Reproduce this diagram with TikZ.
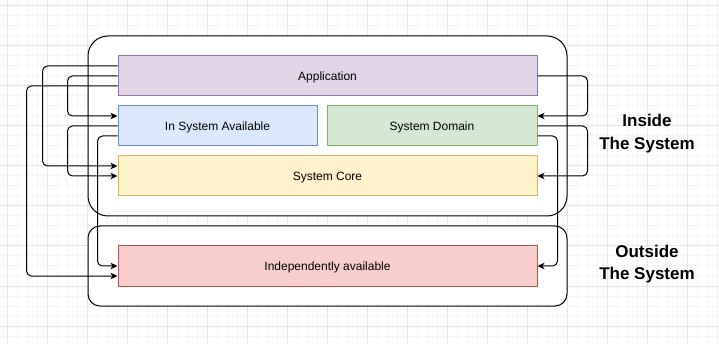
\documentclass[tikz,border=0pt]{standalone}
\usepackage{fontspec}
\setmainfont{Liberation Sans}
\usetikzlibrary{arrows.meta}
\definecolor{GridMinor}{HTML}{F5F5F5}
\definecolor{GridMajor}{HTML}{E6E6E6}
\definecolor{AppFill}{HTML}{E1D5E7}
\definecolor{AppLine}{HTML}{9673A6}
\definecolor{AvailFill}{HTML}{DAE8FC}
\definecolor{AvailLine}{HTML}{6C8EBF}
\definecolor{DomFill}{HTML}{D5E8D4}
\definecolor{DomLine}{HTML}{82B366}
\definecolor{CoreFill}{HTML}{FFF2CC}
\definecolor{CoreLine}{HTML}{D6B656}
\definecolor{IndFill}{HTML}{F8CECC}
\definecolor{IndLine}{HTML}{B85450}
\tikzset{
  layer/.style={draw,line width=1pt,minimum height=40pt,inner sep=0pt,
    text height=8.6pt,text depth=0pt,font=\fontsize{12}{14}\selectfont},
  zone/.style={draw=black,fill=white,line width=1pt,inner sep=0pt},
  link/.style={draw=black,line width=1pt,rounded corners=5pt,
    -{Stealth[length=7pt,width=6.5pt,inset=2pt]}},
  zonetitle/.style={font=\fontsize{17}{22.7}\selectfont\bfseries,align=center}}

\begin{document}
\begin{tikzpicture}[x=1pt,y=-1pt]
  \useasboundingbox (0,0) rectangle (719,344);
  \fill[white] (0,0) rectangle (719,344);
  % background grid
  \foreach \gx in {7,17,...,717} \draw[GridMinor,line width=1pt] (\gx,0) -- (\gx,344);
  \foreach \gy in {6,16,...,336} \draw[GridMinor,line width=1pt] (0,\gy) -- (719,\gy);
  \foreach \gx in {7,47,...,687} \draw[GridMajor,line width=1pt] (\gx,0) -- (\gx,344);
  \foreach \gy in {6,46,...,326} \draw[GridMajor,line width=1pt] (0,\gy) -- (719,\gy);
  % containers
  \node[zone,rounded corners=20pt,minimum width=479pt,minimum height=180pt] (inside) at (327.5,126) {};
  \node[zone,rounded corners=12pt,minimum width=479pt,minimum height=80pt] (outside) at (327.5,266) {};
  % layers
  \node[layer,fill=AppFill,draw=AppLine,minimum width=419pt] (app) at (327.5,76) {Application};
  \node[layer,fill=AvailFill,draw=AvailLine,minimum width=199pt] (avail) at (217.5,126) {In System Available};
  \node[layer,fill=DomFill,draw=DomLine,minimum width=210pt] (dom) at (432,126) {System Domain};
  \node[layer,fill=CoreFill,draw=CoreLine,minimum width=419pt] (core) at (327.5,176) {System Core};
  \node[layer,fill=IndFill,draw=IndLine,minimum width=419pt] (indep) at (327.5,266) {Independently available};
  \node[zonetitle] (insidetitle) at (647,133.5) {Inside\\The System};
  \node[zonetitle] (outsidetitle) at (647,264) {Outside\\The System};
  % left side
  \draw[link] ([yshift=10pt]app.west) -- ++(-75,0) |- ([yshift=10pt]core.west);
  \draw[link] (app.west) -- ++(-50,0) |- ([yshift=10pt]avail.west);
  \draw[link] ([yshift=-10pt]app.west) -- ++(-91,0) |- ([yshift=-10pt]indep.west);
  \draw[link] (avail.west) -- ++(-50,0) |- (core.west);
  \draw[link] ([yshift=-10pt]avail.west) -- ++(-20,0) |- (indep.west);
  % right side
  \draw[link] (app.east) -- ++(50,0) |- ([yshift=10pt]dom.east);
  \draw[link] (dom.east) -- ++(50,0) |- (core.east);
  \draw[link] ([yshift=-10pt]dom.east) -- ++(20,0) |- (indep.east);
\end{tikzpicture}
\end{document}
